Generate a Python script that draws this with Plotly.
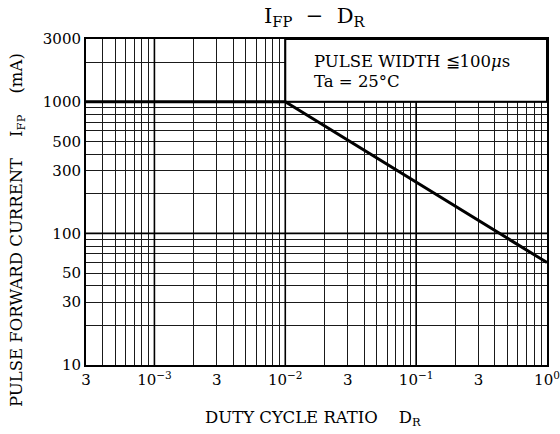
import math
import plotly.graph_objects as go

# ---- data ----
duty_cycle = [3e-4, 1e-2, 1.0]
ifp_ma = [1000, 1000, 60]

x_tick_vals = [3e-4, 1e-3, 3e-3, 1e-2, 3e-2, 1e-1, 3e-1, 1.0]
x_tick_text = ["3", "10<sup>−3</sup>", "3", "10<sup>−2</sup>", "3", "10<sup>−1</sup>", "3", "10<sup>0</sup>"]
y_tick_vals = [10, 30, 50, 100, 300, 500, 1000, 3000]
y_tick_text = ["10", "30", "50", "100", "300", "500", "1000", "3000"]

x_min, x_max = 3e-4, 1.0
y_min, y_max = 10, 3000
x_decades = [1e-3, 1e-2, 1e-1]
y_decades = [100, 1000]
box_x = [1e-2, 1.0, 1.0, 1e-2, 1e-2]
box_y = [1000, 1000, 3000, 3000, 1000]

FONT = "DejaVu Serif, Liberation Serif, serif"

def minor_vals(lo, hi):
    vals = []
    e = math.floor(math.log10(lo))
    while 10 ** e <= hi:
        for m in range(1, 10):
            v = m * 10 ** e
            if lo * 0.999 <= v <= hi * 1.001:
                vals.append(v)
        e += 1
    return vals

lx0, lx1 = math.log10(x_min), math.log10(x_max)
ly0, ly1 = math.log10(y_min), math.log10(y_max)

fig = go.Figure()
# heavier decade grid lines
for v in x_decades:
    fig.add_trace(go.Scatter(x=[v, v], y=[y_min, y_max], mode="lines",
                             line=dict(color="black", width=1.6),
                             showlegend=False, hoverinfo="skip"))
for v in y_decades:
    fig.add_trace(go.Scatter(x=[x_min, x_max], y=[v, v], mode="lines",
                             line=dict(color="black", width=1.6),
                             showlegend=False, hoverinfo="skip"))
# note box (blank area without grid)
fig.add_trace(go.Scatter(x=box_x, y=box_y, mode="lines", fill="toself",
                         fillcolor="white", line=dict(color="black", width=2),
                         showlegend=False, hoverinfo="skip"))
# data curve
fig.add_trace(go.Scatter(x=duty_cycle, y=ifp_ma, mode="lines",
                         line=dict(color="black", width=3), showlegend=False,
                         hoverinfo="skip"))

axis_common = dict(type="log", showline=True, mirror=True, linecolor="black",
                   linewidth=2, showgrid=True, gridcolor="#1a1a1a", gridwidth=1,
                   ticks="", zeroline=False, automargin=False,
                   tickfont=dict(family=FONT, size=15, color="black"))

fig.update_xaxes(range=[lx0, lx1], tickmode="array", tickvals=x_tick_vals,
                 ticktext=x_tick_text,
                 minor=dict(tickmode="array", tickvals=minor_vals(x_min, x_max),
                            showgrid=True, gridcolor="#1a1a1a", gridwidth=1, ticks=""),
                 **axis_common)
fig.update_yaxes(range=[ly0, ly1], tickmode="array", tickvals=y_tick_vals,
                 ticktext=y_tick_text,
                 minor=dict(tickmode="array", tickvals=minor_vals(y_min, y_max),
                            showgrid=True, gridcolor="#1a1a1a", gridwidth=1, ticks=""),
                 **axis_common)

pw, ph = 461, 326
def px(xpix):
    return (xpix - 86) / pw
def py(ypix):
    return (365 - ypix) / ph

annots = [
    dict(text="I<sub>FP</sub>  −  D<sub>R</sub>", x=px(315), y=py(17),
         font=dict(size=21)),
    dict(text="DUTY CYCLE RATIO    D<sub>R</sub>", x=px(313), y=py(418),
         font=dict(size=16.5)),
    dict(text="PULSE FORWARD CURRENT    I<sub>FP</sub>    (mA)", x=px(18), y=py(230),
         textangle=-90, font=dict(size=16.5)),
    dict(text="PULSE WIDTH ≦100<i>μ</i>s", x=px(312), y=py(61), xanchor="left",
         font=dict(size=16.5)),
    dict(text="Ta = 25°C", x=px(312), y=py(81), xanchor="left",
         font=dict(size=16.5)),
]
for a in annots:
    a.setdefault("xanchor", "center")
    a["yanchor"] = "middle"
    a["xref"] = "paper"
    a["yref"] = "paper"
    a["showarrow"] = False
    a["font"] = dict(family=FONT, color="black", **a["font"])
fig.update_layout(annotations=annots,
                  width=560, height=434,
                  margin=dict(l=86, r=13, t=39, b=69),
                  paper_bgcolor="white", plot_bgcolor="white")

fig.write_html("out.html", config={"displayModeBar": False},
               post_script="document.body.style.margin='0';document.body.style.padding='0';")
